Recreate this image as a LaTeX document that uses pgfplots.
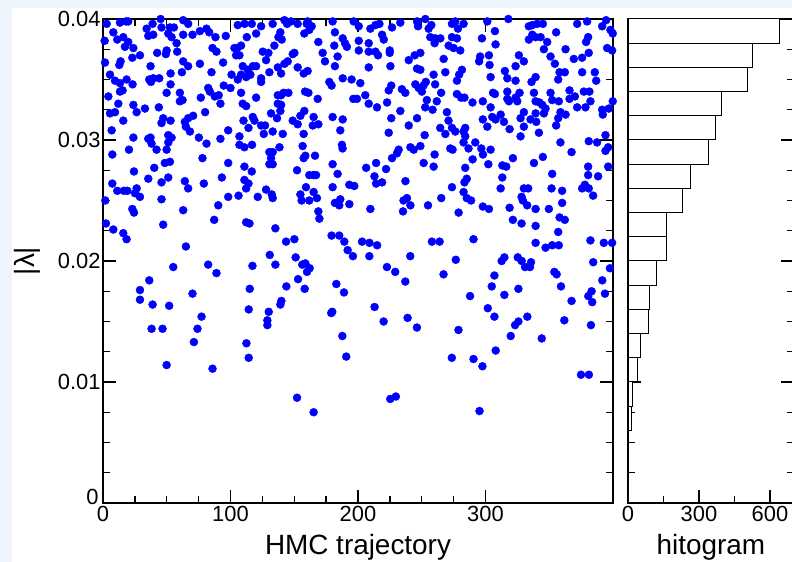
\documentclass[border=0pt]{standalone}
\usepackage{fontspec}
\setmainfont{Liberation Sans}
\usepackage{pgfplots}
\pgfplotsset{compat=1.18}
\definecolor{pagebg}{RGB}{238,245,252}

% |lambda| along the HMC history (trajectory, value)
\pgfplotstableread{
x y
2.9 0.0396
13.3 0.0397
18.0 0.0398
19.8 0.0398
45.2 0.0400
62.9 0.0399
66.8 0.0396
8.1 0.0389
34.2 0.0392
38.9 0.0396
45.9 0.0393
52.5 0.0393
55.6 0.0393
51.2 0.0388
53.8 0.0385
62.9 0.0387
70.2 0.0387
76.0 0.0390
81.2 0.0392
83.3 0.0389
88.2 0.0385
96.3 0.0386
1.3 0.0382
11.2 0.0383
15.9 0.0385
19.8 0.0381
39.4 0.0387
35.5 0.0386
17.2 0.0377
23.8 0.0376
57.7 0.0380
49.9 0.0374
49.3 0.0371
58.2 0.0373
42.5 0.0372
29.0 0.0370
23.0 0.0368
85.9 0.0376
89.0 0.0373
1.6 0.0364
13.8 0.0365
12.8 0.0362
37.3 0.0361
62.9 0.0365
76.0 0.0363
94.2 0.0364
66.8 0.0361
5.5 0.0354
9.4 0.0349
13.3 0.0347
18.5 0.0350
23.2 0.0346
36.3 0.0350
39.4 0.0351
44.1 0.0351
37.6 0.0348
53.0 0.0355
53.0 0.0346
61.9 0.0356
85.1 0.0356
100.8 0.0354
94.7 0.0345
100.0 0.0343
82.5 0.0343
83.8 0.0340
13.3 0.0340
15.4 0.0341
49.9 0.0339
4.2 0.0336
60.3 0.0339
62.4 0.0333
60.3 0.0332
76.7 0.0335
87.7 0.0336
90.8 0.0337
92.1 0.0330
12.0 0.0330
23.8 0.0329
26.4 0.0323
32.9 0.0326
43.8 0.0327
5.5 0.0322
9.4 0.0323
80.1 0.0323
15.9 0.0316
47.2 0.0318
45.9 0.0314
53.0 0.0316
66.8 0.0318
70.7 0.0320
64.2 0.0315
65.0 0.0311
68.2 0.0307
6.8 0.0308
98.2 0.0308
23.8 0.0302
35.5 0.0301
37.3 0.0302
38.1 0.0297
42.0 0.0292
51.2 0.0304
53.8 0.0302
51.2 0.0298
49.9 0.0292
75.2 0.0302
81.2 0.0297
92.1 0.0301
7.3 0.0288
20.4 0.0292
78.0 0.0285
98.2 0.0281
48.5 0.0281
52.5 0.0282
40.2 0.0277
24.3 0.0274
35.5 0.0268
51.2 0.0269
45.9 0.0265
64.2 0.0266
66.8 0.0260
79.1 0.0264
93.2 0.0269
7.3 0.0264
11.2 0.0258
16.4 0.0258
19.1 0.0258
26.4 0.0260
25.1 0.0256
29.0 0.0253
1.8 0.0250
45.9 0.0251
98.2 0.0253
90.4 0.0246
23.0 0.0243
24.3 0.0240
62.9 0.0242
87.2 0.0234
2.3 0.0231
8.1 0.0226
15.9 0.0223
18.5 0.0218
47.2 0.0230
65.0 0.0212
105.7 0.0395
111.0 0.0396
116.7 0.0396
124.0 0.0394
133.1 0.0396
142.3 0.0399
144.4 0.0396
147.5 0.0398
152.7 0.0396
160.5 0.0398
159.8 0.0396
163.7 0.0394
161.8 0.0391
157.9 0.0388
139.1 0.0389
137.6 0.0385
140.2 0.0383
120.1 0.0388
112.8 0.0385
108.3 0.0378
105.2 0.0376
103.1 0.0376
104.4 0.0370
107.0 0.0370
180.1 0.0398
181.9 0.0389
188.0 0.0384
189.8 0.0380
191.3 0.0377
196.6 0.0398
168.9 0.0381
181.4 0.0378
134.4 0.0378
125.3 0.0373
129.7 0.0372
127.9 0.0366
148.8 0.0371
150.1 0.0372
172.3 0.0372
174.1 0.0365
184.0 0.0369
109.6 0.0361
113.6 0.0358
117.5 0.0361
120.1 0.0361
112.3 0.0352
115.6 0.0354
105.7 0.0350
108.3 0.0354
124.0 0.0351
124.0 0.0348
130.5 0.0356
137.1 0.0360
142.3 0.0363
144.9 0.0365
139.7 0.0355
152.7 0.0360
157.4 0.0355
160.5 0.0357
181.9 0.0361
177.5 0.0348
179.3 0.0345
188.0 0.0351
195.0 0.0350
108.3 0.0339
120.1 0.0335
137.1 0.0337
139.7 0.0337
141.7 0.0339
145.4 0.0339
137.1 0.0330
139.7 0.0329
139.1 0.0324
158.5 0.0340
161.1 0.0339
168.4 0.0334
109.6 0.0330
112.3 0.0328
196.3 0.0334
131.8 0.0322
117.5 0.0319
118.8 0.0316
110.2 0.0316
136.5 0.0318
148.8 0.0316
152.7 0.0313
154.8 0.0320
157.9 0.0324
165.2 0.0319
164.5 0.0312
168.9 0.0313
180.1 0.0319
188.0 0.0317
114.1 0.0310
124.0 0.0312
127.1 0.0312
126.1 0.0305
133.1 0.0307
141.0 0.0305
157.4 0.0305
186.1 0.0308
107.0 0.0303
107.0 0.0296
110.9 0.0294
116.9 0.0296
138.4 0.0294
130.5 0.0290
133.1 0.0290
131.8 0.0285
130.5 0.0280
133.1 0.0280
156.6 0.0295
157.4 0.0285
158.7 0.0287
166.3 0.0287
187.4 0.0296
187.9 0.0293
110.9 0.0278
116.7 0.0274
152.2 0.0275
180.1 0.0280
184.0 0.0272
110.9 0.0267
114.1 0.0264
112.3 0.0260
161.8 0.0271
165.2 0.0271
167.1 0.0271
159.2 0.0261
165.2 0.0257
167.8 0.0252
154.8 0.0255
155.8 0.0250
161.8 0.0250
132.4 0.0255
133.1 0.0252
127.9 0.0259
121.4 0.0253
106.3 0.0254
180.1 0.0261
193.2 0.0263
197.1 0.0262
186.1 0.0251
181.9 0.0248
185.3 0.0246
193.2 0.0247
168.9 0.0241
169.7 0.0235
112.3 0.0232
114.9 0.0231
135.2 0.0227
143.6 0.0216
150.1 0.0218
179.3 0.0221
185.3 0.0221
189.3 0.0216
191.9 0.0209
199.2 0.0334
200.6 0.0394
209.7 0.0392
213.7 0.0395
216.8 0.0396
218.9 0.0387
220.2 0.0383
226.7 0.0393
233.2 0.0397
246.3 0.0398
252.8 0.0400
247.1 0.0394
255.4 0.0392
257.5 0.0395
256.7 0.0385
260.6 0.0384
264.6 0.0384
260.1 0.0380
273.7 0.0396
276.3 0.0398
278.4 0.0392
282.8 0.0396
273.7 0.0385
277.6 0.0384
271.1 0.0378
275.0 0.0376
280.2 0.0374
297.2 0.0384
200.6 0.0382
200.6 0.0374
208.4 0.0380
208.4 0.0373
213.7 0.0373
215.7 0.0370
224.9 0.0374
224.9 0.0372
225.4 0.0361
208.4 0.0360
239.8 0.0366
244.5 0.0370
248.9 0.0372
246.3 0.0359
248.9 0.0358
259.3 0.0354
267.2 0.0367
268.5 0.0356
281.5 0.0358
279.3 0.0354
277.6 0.0349
295.8 0.0369
295.0 0.0365
201.8 0.0347
205.7 0.0337
208.4 0.0330
214.9 0.0327
222.8 0.0331
224.1 0.0341
226.1 0.0345
233.2 0.0324
234.4 0.0342
237.1 0.0339
245.0 0.0346
247.6 0.0343
251.4 0.0345
253.2 0.0348
250.1 0.0340
254.0 0.0333
252.7 0.0327
258.5 0.0325
261.8 0.0332
260.5 0.0346
265.2 0.0339
269.7 0.0323
277.6 0.0338
280.9 0.0335
283.5 0.0335
289.8 0.0331
297.9 0.0332
271.0 0.0316
226.1 0.0318
239.8 0.0312
246.3 0.0318
224.1 0.0306
252.3 0.0304
264.5 0.0310
273.7 0.0310
268.5 0.0305
276.3 0.0307
282.8 0.0307
284.1 0.0310
284.1 0.0303
297.9 0.0317
231.9 0.0292
230.6 0.0289
226.7 0.0285
241.1 0.0294
243.7 0.0292
248.9 0.0295
260.1 0.0288
272.4 0.0293
274.2 0.0292
282.8 0.0298
286.7 0.0293
292.0 0.0298
296.7 0.0293
298.0 0.0288
289.9 0.0284
206.4 0.0277
214.2 0.0281
222.0 0.0276
212.9 0.0270
214.2 0.0264
218.9 0.0265
251.5 0.0281
259.3 0.0278
237.2 0.0266
284.1 0.0277
283.5 0.0265
285.3 0.0268
273.7 0.0261
282.8 0.0257
285.3 0.0252
288.7 0.0250
235.7 0.0250
238.4 0.0252
241.1 0.0246
235.3 0.0241
254.9 0.0246
265.3 0.0252
278.9 0.0240
297.9 0.0245
209.7 0.0243
203.2 0.0216
209.0 0.0215
215.0 0.0213
258.0 0.0216
264.0 0.0216
290.6 0.0218
301.4 0.0398
317.9 0.0400
307.4 0.0390
307.9 0.0379
334.0 0.0394
336.7 0.0395
340.6 0.0396
345.0 0.0396
334.0 0.0383
336.7 0.0387
339.3 0.0385
343.2 0.0385
348.4 0.0381
345.8 0.0375
355.4 0.0389
351.0 0.0369
354.4 0.0363
362.8 0.0375
371.9 0.0396
379.7 0.0398
391.5 0.0394
394.6 0.0399
398.0 0.0391
399.8 0.0388
380.5 0.0385
378.9 0.0381
381.0 0.0372
369.3 0.0367
375.8 0.0368
326.2 0.0370
330.1 0.0365
323.6 0.0361
302.7 0.0370
303.2 0.0362
304.0 0.0352
315.2 0.0357
317.1 0.0351
323.6 0.0349
336.1 0.0348
339.3 0.0352
358.1 0.0356
362.2 0.0356
357.0 0.0350
375.8 0.0356
385.7 0.0356
386.8 0.0349
395.4 0.0376
399.3 0.0374
305.9 0.0339
307.4 0.0338
317.1 0.0340
317.1 0.0334
318.4 0.0332
323.6 0.0335
324.9 0.0332
326.7 0.0339
338.0 0.0339
339.3 0.0332
342.4 0.0331
344.5 0.0329
347.1 0.0326
351.0 0.0339
352.3 0.0333
357.5 0.0332
365.9 0.0341
365.9 0.0334
370.1 0.0336
371.9 0.0327
377.1 0.0340
378.4 0.0327
381.5 0.0340
382.3 0.0332
391.5 0.0325
392.0 0.0321
396.7 0.0326
399.8 0.0332
304.0 0.0327
305.3 0.0319
307.9 0.0317
311.9 0.0321
314.5 0.0315
301.4 0.0311
318.9 0.0309
327.5 0.0318
330.1 0.0323
330.1 0.0311
335.3 0.0317
339.3 0.0322
339.8 0.0315
345.8 0.0322
341.9 0.0306
355.4 0.0312
357.0 0.0318
358.8 0.0323
362.8 0.0321
327.5 0.0303
304.0 0.0292
302.2 0.0280
321.5 0.0285
338.0 0.0281
345.0 0.0286
358.8 0.0298
367.5 0.0290
381.0 0.0299
387.5 0.0298
394.1 0.0304
396.2 0.0294
394.1 0.0291
396.2 0.0278
313.2 0.0279
316.3 0.0278
313.2 0.0269
311.9 0.0260
330.1 0.0260
333.5 0.0260
328.3 0.0253
329.3 0.0250
332.7 0.0246
352.3 0.0272
351.8 0.0260
360.1 0.0258
360.1 0.0248
339.3 0.0243
349.7 0.0243
318.9 0.0244
302.7 0.0243
321.5 0.0234
328.3 0.0231
339.3 0.0229
358.1 0.0236
362.2 0.0234
357.0 0.0224
380.5 0.0278
380.5 0.0271
388.3 0.0270
375.8 0.0260
377.9 0.0263
381.0 0.0260
384.4 0.0254
339.3 0.0215
347.1 0.0211
352.3 0.0213
357.5 0.0213
382.3 0.0217
392.8 0.0215
399.3 0.0215
130.8 0.0205
151.1 0.0203
156.3 0.0197
158.7 0.0198
162.1 0.0194
160.0 0.0191
196.0 0.0204
82.5 0.0197
89.0 0.0190
117.2 0.0196
135.2 0.0197
55.1 0.0195
36.3 0.0184
29.0 0.0176
29.0 0.0168
38.9 0.0164
51.9 0.0163
38.1 0.0144
46.7 0.0144
49.9 0.0114
70.2 0.0173
77.3 0.0154
74.1 0.0144
71.3 0.0133
85.9 0.0111
115.1 0.0177
114.3 0.0160
112.5 0.0132
114.3 0.0120
130.0 0.0158
128.9 0.0151
128.9 0.0147
143.8 0.0179
139.9 0.0167
139.1 0.0164
153.0 0.0185
158.2 0.0177
179.0 0.0157
179.8 0.0158
183.0 0.0181
189.0 0.0174
187.7 0.0138
190.8 0.0121
152.2 0.0087
165.2 0.0075
208.9 0.0204
241.0 0.0204
276.7 0.0201
312.7 0.0200
314.8 0.0203
325.3 0.0203
328.4 0.0200
335.7 0.0199
331.0 0.0195
334.9 0.0195
384.5 0.0199
397.6 0.0194
222.7 0.0195
229.2 0.0191
267.1 0.0189
237.1 0.0183
307.0 0.0188
304.9 0.0179
325.8 0.0177
314.8 0.0172
287.9 0.0171
354.0 0.0191
355.8 0.0189
359.2 0.0179
367.5 0.0167
380.6 0.0171
383.2 0.0175
383.7 0.0166
391.6 0.0184
393.7 0.0173
213.0 0.0162
220.1 0.0150
238.9 0.0153
246.2 0.0145
301.8 0.0161
307.0 0.0154
325.8 0.0150
323.2 0.0147
332.8 0.0154
319.8 0.0138
344.1 0.0136
361.8 0.0151
382.7 0.0147
278.8 0.0143
308.0 0.0126
273.6 0.0120
290.6 0.0119
297.6 0.0113
374.9 0.0106
381.1 0.0106
225.3 0.0086
229.7 0.0088
295.3 0.0076
}\trajdata

% histogram of |lambda|: lower bin edge, count
\pgfplotstableread{
y n
0.000 0
0.002 3
0.004 3
0.006 13
0.008 18
0.010 39
0.012 54
0.014 86
0.016 92
0.018 121
0.020 162
0.022 161
0.024 231
0.026 265
0.028 339
0.030 369
0.032 397
0.034 506
0.036 527
0.038 639
0.040 639
}\histdata

\begin{document}
\begin{tikzpicture}
\fill[pagebg] (0,0) rectangle (792bp,562bp);
\fill[white] (12bp,0) rectangle (792bp,554bp);

\pgfplotsset{
  panel/.style={
    scale only axis,
    height=484bp,
    ymin=0, ymax=0.04,
    axis line style={line width=1.4bp},
    every tick/.style={line width=1.4bp, black},
    major tick length=13bp,
    minor tick length=7bp,
    tick align=inside,
    scaled y ticks=false,
    minor ytick={0.0025,0.005,0.0075,0.0125,0.015,0.0175,0.0225,0.025,0.0275,0.0325,0.035,0.0375},
    ticklabel style={font=\fontsize{22}{22}\selectfont},
    label style={font=\fontsize{28}{28}\selectfont},
    /pgf/number format/assume math mode=true,
  }
}

\begin{axis}[panel,
  at={(103bp,59bp)}, anchor=south west, width=510bp,
  xmin=0, xmax=400,
  xtick={0,100,200,300}, minor x tick num=3,
  ytick={0.01,0.02,0.03,0.04},
  yticklabels={0.01,0.02,0.03,0.04},
  yticklabel style={xshift=1bp},
  extra y ticks={0},
  extra y tick labels={0},
  extra y tick style={yticklabel style={yshift=6bp, xshift=-2bp}},
  xlabel={HMC trajectory},
  ylabel={|λ|},
  xlabel style={at={(axis description cs:0.5,-0.091)}, anchor=center},
  ylabel style={at={(axis description cs:-0.149,0.5)}, anchor=center},
]
\addplot[only marks, mark=*, mark size=4bp, color=blue,
  mark options={draw=blue, fill=blue}] table[x=x, y=y] {\trajdata};
\end{axis}

\begin{axis}[panel,
  at={(628bp,59bp)}, anchor=south west, width=165.7bp,
  xmin=0, xmax=700,
  xtick={0,300,600}, minor xtick={150,450},
  ytick={0,0.01,0.02,0.03,0.04},
  yticklabels={},
  xlabel={hitogram},
  xlabel style={at={(axis description cs:0.5,-0.091)}, anchor=center},
]
\addplot[xbar interval, fill=white, draw=black, line width=1bp]
  table[x=n, y=y] {\histdata};
\end{axis}

\pgfresetboundingbox
\path[use as bounding box] (0,0) rectangle (792bp,562bp);
\end{tikzpicture}
\end{document}
